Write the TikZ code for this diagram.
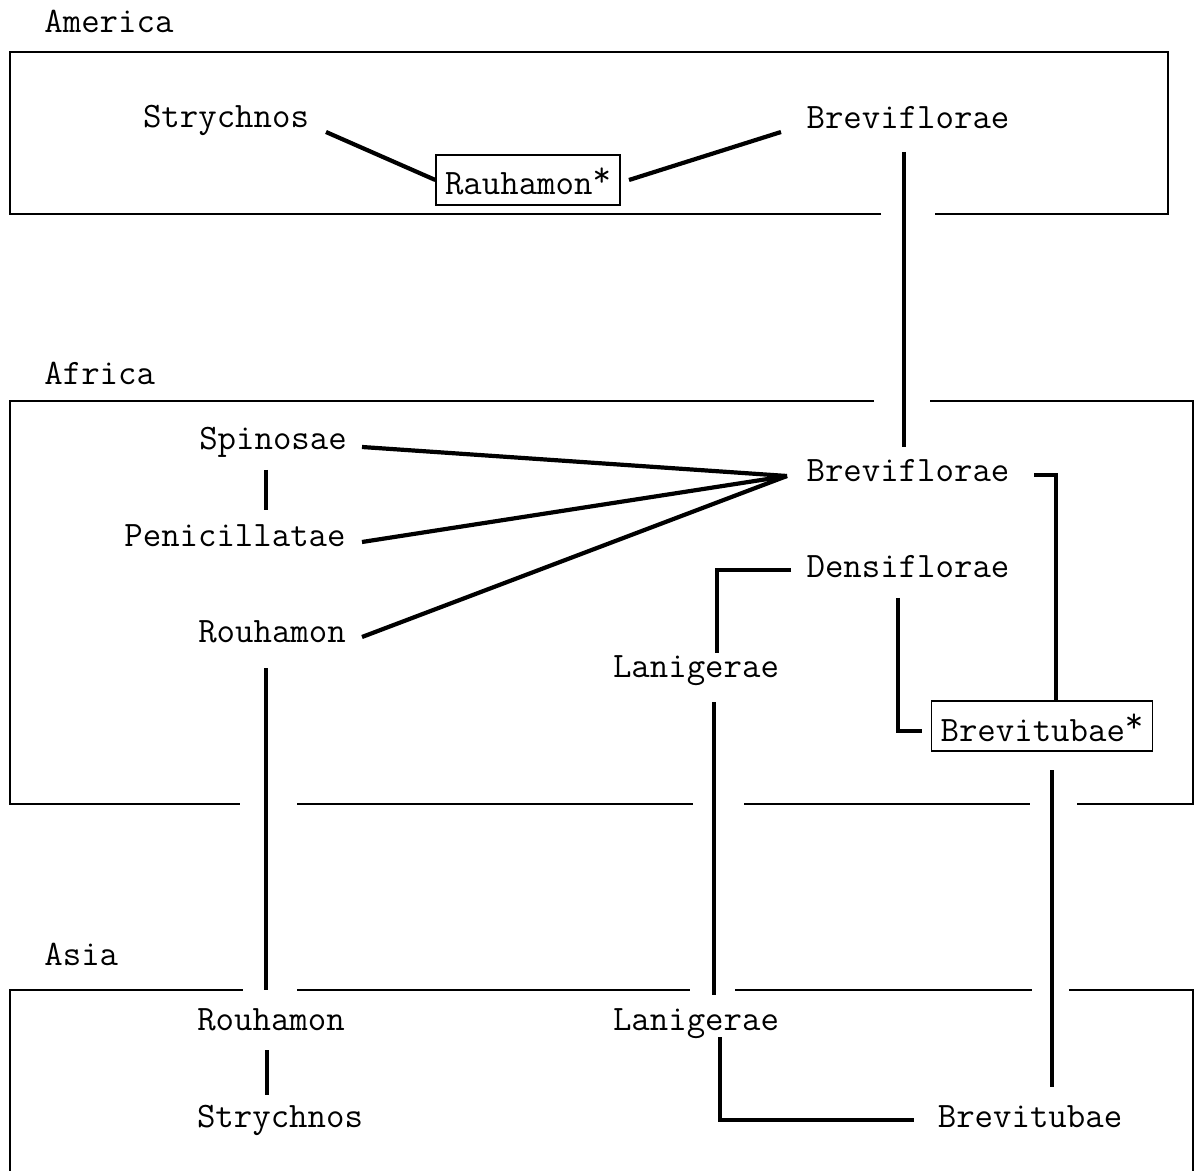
\documentclass[tikz,border=0pt]{standalone}
\usepackage{fontspec}
\begin{document}
\begin{tikzpicture}[x=0.5pt,y=-0.5pt,
  lbl/.style={font=\ttfamily\fontsize{17.9pt}{20pt}\selectfont, inner sep=0pt, anchor=base},
  region/.style={lbl, anchor=base west},
  conn/.style={line width=2.1pt, line cap=butt},
  frame/.style={line width=1pt},
  ibox/.style={lbl, draw, line width=0.7pt, text height=17pt, text depth=2pt, inner xsep=4.5pt, inner ysep=3pt}]
\useasboundingbox (0,0) rectangle (1195,1171);
\newcommand{\astk}{\raisebox{4.2pt}{*}}

% ---------- region frames ----------
% America
\draw[frame] (881,214) -- (10,214) -- (10,52) -- (1168,52) -- (1168,214) -- (935,214);
% Africa
\draw[frame] (874,401) -- (10,401) -- (10,804) -- (240,804);
\draw[frame] (930,401) -- (1193,401) -- (1193,804) -- (1077,804);
\draw[frame] (297,804) -- (693,804);
\draw[frame] (744,804) -- (1030,804);
% Asia
\draw[frame] (10,1171) -- (10,990) -- (243,990);
\draw[frame] (297,990) -- (690,990);
\draw[frame] (735,990) -- (1032,990);
\draw[frame] (1069,990) -- (1193,990) -- (1193,1171);

% ---------- region labels ----------
\node[region] (lAm) at (44,33) {America};
\node[region] (lAf) at (44,385) {Africa};
\node[region] (lAs) at (44,965) {Asia};

% ---------- America ----------
\node[lbl] (amStr) at (226,128) {Strychnos};
\node[lbl] (amBrev) at (908,129) {Breviflorae};
\node[ibox] (amRau) at (528,195) {Rauhamon\astk};

% ---------- Africa ----------
\node[lbl] (afSpi) at (273,450) {Spinosae};
\node[lbl] (afPen) at (235,547) {Penicillatae};
\node[lbl] (afRou) at (272,643) {Rouhamon};
\node[lbl] (afBrev) at (908,482) {Breviflorae};
\node[lbl] (afDen) at (908,578) {Densiflorae};
\node[lbl] (afLan) at (696,677) {Lanigerae};
\node[ibox] (afBt) at (1042,741) {Brevitubae\astk};

% ---------- Asia ----------
\node[lbl] (asRou) at (271,1030) {Rouhamon};
\node[lbl] (asStr) at (280,1127) {Strychnos};
\node[lbl] (asLan) at (696,1030) {Lanigerae};
\node[lbl] (asBt) at (1030,1127) {Brevitubae};

% ---------- connector end points ----------
\coordinate (p1) at (326,132);
\coordinate (p2) at (629,180);
\coordinate (p3) at (781,132);
\coordinate (p4) at (904,152);
\coordinate (p5) at (904,447);
\coordinate (hub) at (787,476);
\coordinate (s1) at (362,447);
\coordinate (s2) at (362,542);
\coordinate (s3) at (362,637);
\coordinate (v1) at (266,470);
\coordinate (v2) at (266,510);
\coordinate (r1) at (266,668);
\coordinate (r2) at (266,990);
\coordinate (b1) at (1034,475);
\coordinate (b2) at (1056,475);
\coordinate (b3) at (b2 |- afBt.north);
\coordinate (d1) at (791,570);
\coordinate (d2) at (717,570);
\coordinate (d3) at (717,653);
\coordinate (e1) at (898,598);
\coordinate (e2) at (898,731);
\coordinate (e3) at (922,731);
\coordinate (l1) at (714,702);
\coordinate (l2) at (714,995);
\coordinate (t1) at (1052,770);
\coordinate (t2) at (1052,1087);
\coordinate (a1) at (267,1050);
\coordinate (a2) at (267,1095);
\coordinate (g1) at (720,1037);
\coordinate (g2) at (720,1120);
\coordinate (g3) at (914,1120);

% ---------- connectors ----------
\draw[conn] (p1) -- (amRau.west);
\draw[conn] (p2) -- (p3);
\draw[conn] (p4) -- (p5);
\draw[conn] (s1) -- (hub);
\draw[conn] (s2) -- (hub);
\draw[conn] (s3) -- (hub);
\draw[conn] (v1) -- (v2);
\draw[conn] (r1) -- (r2);
\draw[conn] (b1) -- (b2) -- (b3);
\draw[conn] (d1) -- (d2) -- (d3);
\draw[conn] (e1) -- (e2) -- (e3);
\draw[conn] (l1) -- (l2);
\draw[conn] (t1) -- (t2);
\draw[conn] (a1) -- (a2);
\draw[conn] (g1) -- (g2) -- (g3);
\end{tikzpicture}
\end{document}
